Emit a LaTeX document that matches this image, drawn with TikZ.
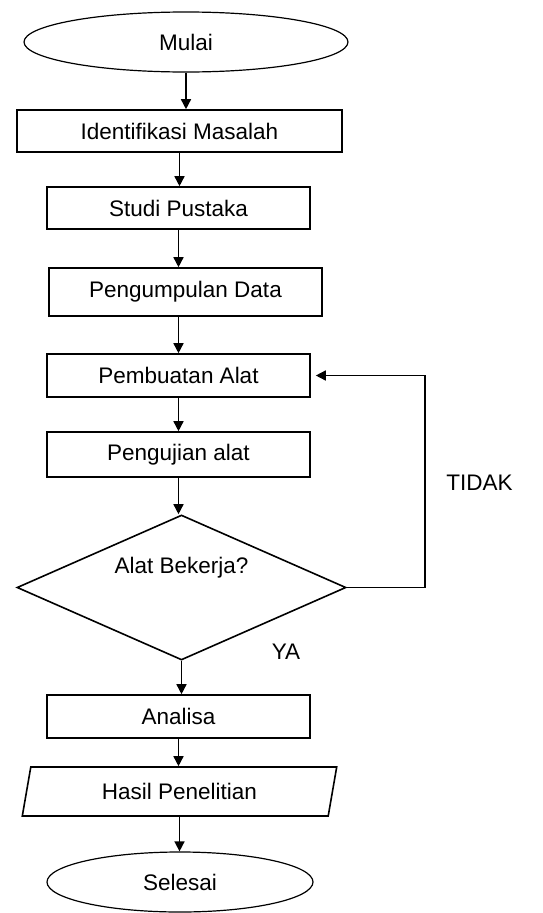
\documentclass[tikz,border=0pt]{standalone}
\usepackage{fontspec}
\setmainfont{Liberation Sans}
\usetikzlibrary{shapes.geometric,arrows.meta}
\begin{document}
\begin{tikzpicture}[x=1pt,y=1pt,
  font=\fontsize{22.5}{26}\selectfont,
  terminal/.style={ellipse, draw=black, line width=1.2pt, minimum height=60pt, inner sep=0pt},
  proses/.style={rectangle, draw=black, line width=1.6pt, minimum width=263pt, minimum height=43pt, inner sep=0pt},
  keputusan/.style={diamond, draw=black, line width=1.6pt, minimum width=329pt, minimum height=145pt, inner sep=0pt},
  datadiri/.style={trapezium, trapezium left angle=75, trapezium right angle=105, trapezium stretches=true, draw=black, line width=1.6pt, minimum width=315pt, minimum height=49pt, inner sep=0pt},
  panah/.style={line width=1.5pt, -{Triangle[length=10pt,width=10pt]}}]
\useasboundingbox (0,0) rectangle (543,-913);
\node [terminal, minimum width=324pt] (mulai) at (186,-42) {Mulai};
\node [proses, minimum width=325pt, minimum height=42pt] (identifikasi) at (179.5,-131) {Identifikasi Masalah};
\node [proses, minimum height=42pt] (studi) at (178.5,-208) {Studi Pustaka};
\node [proses, minimum width=273pt, minimum height=48pt] (data) at (185.5,-292) {Pengumpulan Data};
\node [proses] (pembuatan) at (178.5,-375.5) {Pembuatan Alat};
\node [proses, minimum height=45pt] (pengujian) at (178.5,-454.5) {Pengujian alat};
\node [keputusan] (bekerja) at (181.5,-587.5) {\raisebox{14pt}[0pt][0pt]{Alat Bekerja?}};
\node [proses] (analisa) at (178.5,-716.5) {Analisa};
\node [datadiri] (hasil) at (179.5,-791.5) {Hasil Penelitian};
\node [terminal, minimum width=266pt] (selesai) at (180,-882) {Selesai};
\node (tidak) at (479.5,-483) {TIDAK};
\node (ya) at (286,-652) {YA};
\coordinate (balik) at (425,-375.5);
% alur utama
\draw [panah] (mulai.south) -- (mulai.south |- identifikasi.north);
\draw [panah] (identifikasi.south) -- (identifikasi.south |- studi.north);
\draw [panah] (studi.south) -- (studi.south |- data.north);
\draw [panah] (data.south -| studi.south) -- (studi.south |- pembuatan.north);
\draw [panah] (pembuatan.south) -- (pembuatan.south |- pengujian.north);
\draw [panah] (pengujian.south) -- (pengujian.south |- bekerja.north);
\draw [panah] (bekerja.south) -- (bekerja.south |- analisa.north);
\draw [panah] (analisa.south) -- (analisa.south |- hasil.north);
\draw [panah] (hasil.south) -- (hasil.south |- selesai.north);
% kembali jika tidak bekerja
\draw [panah, shorten >=5pt] (bekerja.east) -| (balik) -- (pembuatan.east);
\end{tikzpicture}
\end{document}
